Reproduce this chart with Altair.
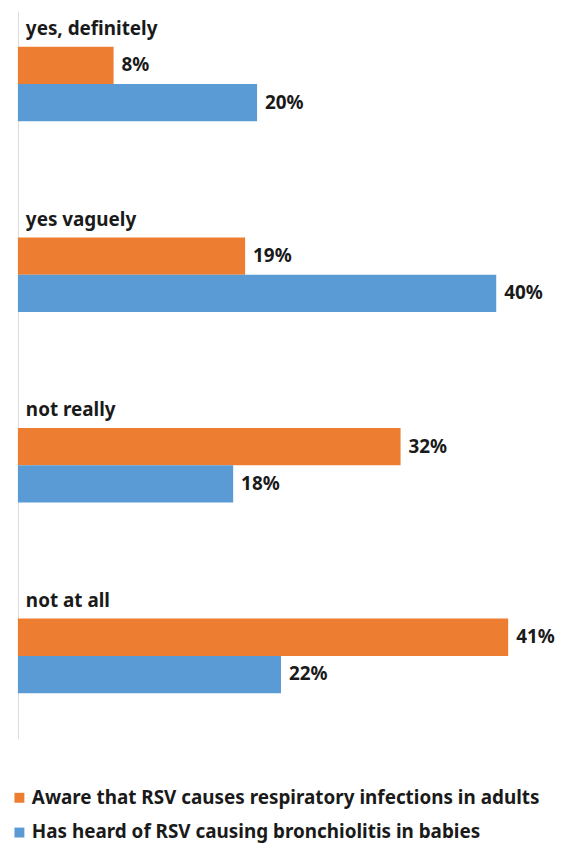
import altair as alt
import pandas as pd

categories = ["yes, definitely", "yes vaguely", "not really", "not at all"]
series = [
    "Aware that RSV causes respiratory infections in adults",
    "Has heard of RSV causing bronchiolitis in babies",
]
adults = [8, 19, 32, 41]
babies = [20, 40, 18, 22]
colors = ["#ED7D31", "#5B9BD5"]

rows = []
for c, a, b in zip(categories, adults, babies):
    rows.append({"category": c, "series": series[0], "value": a, "label": f"{a}%"})
    rows.append({"category": c, "series": series[1], "value": b, "label": f"{b}%"})
df = pd.DataFrame(rows)
cats = pd.DataFrame({"category": categories})

FONT = "Noto Sans"
FS = 19

yscale = alt.Scale(paddingInner=0.609, paddingOuter=0.2135, align=0.44)
xscale = alt.Scale(domain=[0, 44.5], nice=False, zero=True)

bars = alt.Chart(df).mark_bar().encode(
    x=alt.X("value:Q", scale=xscale, axis=None),
    y=alt.Y("category:N", sort=categories, scale=yscale,
            axis=alt.Axis(labels=False, ticks=False, title=None, grid=False,
                          domainColor="#d9d9d9", domainWidth=1)),
    yOffset=alt.YOffset("series:N", sort=series,
                        scale=alt.Scale(paddingInner=0, paddingOuter=0)),
    color=alt.Color("series:N", sort=series,
                    scale=alt.Scale(domain=series, range=colors),
                    legend=alt.Legend(orient="none", legendX=-8, legendY=783,
                                      direction="vertical", symbolType="square",
                                      symbolSize=100, symbolStrokeWidth=0,
                                      labelFontSize=19, labelFontWeight="bold",
                                      labelFont=FONT, labelColor="#1a1a1a",
                                      labelLimit=700, rowPadding=15,
                                      labelOffset=3, title=None, padding=0)),
)

values = alt.Chart(df).mark_text(
    align="left", baseline="middle", dx=8, fontSize=FS, fontWeight="bold",
    font=FONT, color="#1a1a1a"
).encode(
    x=alt.X("value:Q", scale=xscale),
    y=alt.Y("category:N", sort=categories),
    yOffset=alt.YOffset("series:N", sort=series),
    text="label:N",
)

cat_labels = alt.Chart(cats).mark_text(
    align="left", baseline="middle", dx=8, dy=-18, fontSize=FS,
    fontWeight="bold", font=FONT, color="#1a1a1a"
).encode(
    x=alt.datum(0),
    y=alt.Y("category:N", sort=categories, bandPosition=0),
    text="category:N",
)

chart = alt.layer(bars, values, cat_labels).properties(
    width=536, height=733,
    padding={"left": 2, "top": 0, "right": 0, "bottom": 0},
).configure(font=FONT).configure_view(strokeWidth=0, stroke="transparent")

chart.save("out.html", embed_options={"renderer": "svg", "actions": False})
